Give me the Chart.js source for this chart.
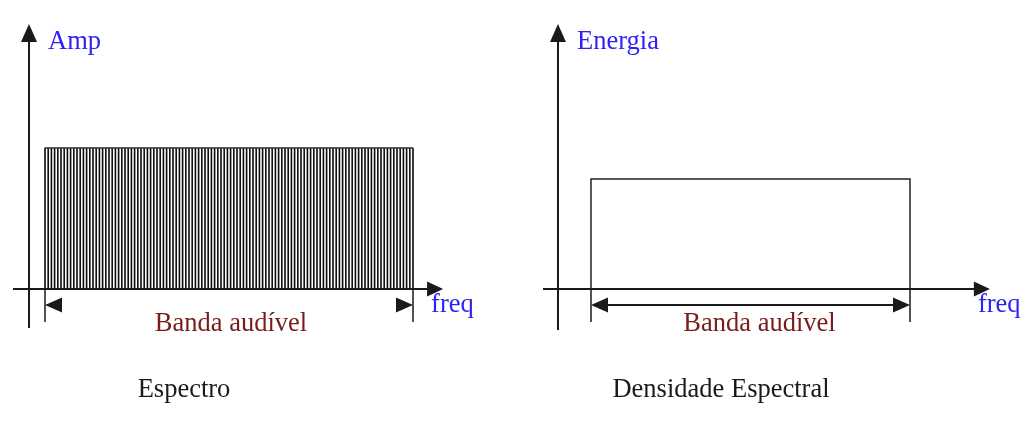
<!DOCTYPE html>
<html>
<head>
<meta charset="utf-8">
<script src="https://cdn.jsdelivr.net/npm/chart.js@4.4.0/dist/chart.umd.min.js"></script>
<style>
  body { margin: 0; background: #fff; }
  #wrap { position: relative; width: 1030px; height: 421px; }
  canvas { position: absolute; top: 0; }
</style>
</head>
<body>
<div id="wrap">
  <canvas id="espectro" width="515" height="421" style="left:0"></canvas>
  <canvas id="densidade" width="515" height="421" style="left:515px"></canvas>
</div>
<script>
// --- DATA ---
// spectral lines (index of each line across the audible band) and their amplitudes
const spectrumFreqs = [
  0, 1, 2, 3, 4, 5, 6, 7, 8, 9, 10, 11, 12, 13, 14, 15, 16, 17, 18, 19,
  20, 21, 22, 23, 24, 25, 26, 27, 28, 29, 30, 31, 32, 33, 34, 35, 36, 37, 38, 39,
  40, 41, 42, 43, 44, 45, 46, 47, 48, 49, 50, 51, 52, 53, 54, 55, 56, 57, 58, 59,
  60, 61, 62, 63, 64, 65, 66, 67, 68, 69, 70, 71, 72, 73, 74, 75, 76, 77, 78, 79,
  80, 81, 82, 83, 84, 85, 86, 87, 88, 89, 90, 91, 92, 93, 94, 95, 96, 97, 98, 99,
  100, 101, 102, 103, 104, 105, 106, 107, 108, 109, 110, 111, 112, 113, 114, 115
];
const spectrumAmps = [
  1, 1, 1, 1, 1, 1, 1, 1, 1, 1, 1, 1, 1, 1, 1, 1, 1, 1, 1, 1,
  1, 1, 1, 1, 1, 1, 1, 1, 1, 1, 1, 1, 1, 1, 1, 1, 1, 1, 1, 1,
  1, 1, 1, 1, 1, 1, 1, 1, 1, 1, 1, 1, 1, 1, 1, 1, 1, 1, 1, 1,
  1, 1, 1, 1, 1, 1, 1, 1, 1, 1, 1, 1, 1, 1, 1, 1, 1, 1, 1, 1,
  1, 1, 1, 1, 1, 1, 1, 1, 1, 1, 1, 1, 1, 1, 1, 1, 1, 1, 1, 1,
  1, 1, 1, 1, 1, 1, 1, 1, 1, 1, 1, 1, 1, 1, 1, 1
];
// edges of the audible band
const bandEdges = [0, 115];
const envelopeAmps = [1, 1];
// spectral density: a flat rectangle over the band
const densityFreqs = [0, 0, 115, 115];
const densityEnergy = [0, 1, 1, 0];

const labels = {
  left: { y: 'Amp', x: 'freq', band: 'Banda audível', title: 'Espectro' },
  right: { y: 'Energia', x: 'freq', band: 'Banda audível', title: 'Densidade Espectral' }
};

const FONT = '26.5px "Liberation Serif", "DejaVu Serif", serif';
const BLUE = '#2f22f5';
const MAROON = '#7a1c1c';
const INK = '#1a1a1a';

function arrowHead(ctx, tipX, tipY, dir, len, half) {
  // dir: 'up' | 'right' | 'left'
  ctx.beginPath();
  ctx.moveTo(tipX, tipY);
  if (dir === 'up') {
    ctx.lineTo(tipX - half, tipY + len);
    ctx.lineTo(tipX + half, tipY + len);
  } else if (dir === 'right') {
    ctx.lineTo(tipX - len, tipY - half);
    ctx.lineTo(tipX - len, tipY + half);
  } else {
    ctx.lineTo(tipX + len, tipY - half);
    ctx.lineTo(tipX + len, tipY + half);
  }
  ctx.closePath();
  ctx.fill();
}

// draws the hand-sketched axes, band marker and captions around each chart
const sketchAxes = {
  id: 'sketchAxes',
  afterDraw(chart, args, opts) {
    const ctx = chart.ctx;
    const xs = chart.scales.x, ys = chart.scales.y;
    const base = ys.getPixelForValue(0);
    const axisX = xs.getPixelForValue(opts.yAxisAt);
    const xStart = xs.getPixelForValue(opts.xFrom);
    const xEnd = xs.getPixelForValue(opts.xTo);
    const bL = xs.getPixelForValue(bandEdges[0]);
    const bR = xs.getPixelForValue(bandEdges[1]);

    ctx.save();
    ctx.strokeStyle = INK;
    ctx.fillStyle = INK;
    ctx.lineWidth = 2;

    // vertical axis
    ctx.beginPath();
    ctx.moveTo(axisX, opts.yBottom);
    ctx.lineTo(axisX, 40);
    ctx.stroke();
    arrowHead(ctx, axisX, 24, 'up', 18, 8);

    // horizontal axis
    ctx.beginPath();
    ctx.moveTo(xStart, base);
    ctx.lineTo(xEnd - 14, base);
    ctx.stroke();
    arrowHead(ctx, xEnd, base, 'right', 16, 7.5);

    // band extension lines
    ctx.lineWidth = 1.5;
    ctx.beginPath();
    ctx.moveTo(bL, base);
    ctx.lineTo(bL, base + 33);
    ctx.moveTo(bR, base);
    ctx.lineTo(bR, base + 33);
    ctx.stroke();

    // band dimension arrows
    const dimY = base + 16;
    if (opts.dimLine) {
      ctx.lineWidth = 2;
      ctx.beginPath();
      ctx.moveTo(bL + 10, dimY);
      ctx.lineTo(bR - 10, dimY);
      ctx.stroke();
    }
    arrowHead(ctx, bL, dimY, 'left', 17, 7.5);
    arrowHead(ctx, bR, dimY, 'right', 17, 7.5);

    // captions
    const t = opts.text;
    ctx.font = FONT;
    ctx.textBaseline = 'alphabetic';
    ctx.textAlign = 'left';
    ctx.fillStyle = BLUE;
    ctx.fillText(t.y, axisX + 19, 49);
    ctx.fillText(t.x, xEnd - 12, 312);
    ctx.textAlign = 'center';
    ctx.fillStyle = MAROON;
    ctx.fillText(t.band, (bL + bR) / 2 + opts.bandShift, 331);
    ctx.fillStyle = INK;
    ctx.fillText(t.title, opts.titleX, 397);
    ctx.restore();
  }
};

const commonScales = () => ({
  x: { type: 'linear', display: false, offset: false, min: bandEdges[0], max: bandEdges[1] },
  y: { type: 'linear', display: false, min: 0, max: 1 }
});

// --- LEFT: ESPECTRO ---
new Chart(document.getElementById('espectro'), {
  type: 'bar',
  data: {
    datasets: [
      {
        type: 'line',
        data: bandEdges.map((f, i) => ({ x: f, y: envelopeAmps[i] })),
        borderColor: '#333',
        borderWidth: 1.5,
        pointRadius: 0,
        clip: 4
      },
      {
        type: 'bar',
        data: spectrumFreqs.map((f, i) => ({ x: f, y: spectrumAmps[i] })),
        backgroundColor: '#111',
        barThickness: 1,
        borderWidth: 0,
        clip: 4
      }
    ]
  },
  options: {
    responsive: false,
    animation: false,
    layout: { padding: { left: 45, right: 102, top: 148, bottom: 132 } },
    scales: commonScales(),
    plugins: {
      legend: { display: false },
      tooltip: { enabled: false },
      sketchAxes: {
        yAxisAt: -5, xFrom: -10, xTo: 124.4, yBottom: 328,
        dimLine: false, bandShift: 2, titleX: 184, text: labels.left
      }
    }
  },
  plugins: [sketchAxes]
});

// --- RIGHT: DENSIDADE ESPECTRAL ---
new Chart(document.getElementById('densidade'), {
  type: 'line',
  data: {
    datasets: [{
      data: densityFreqs.map((f, i) => ({ x: f, y: densityEnergy[i] })),
      borderColor: '#222',
      borderWidth: 1.5,
      pointRadius: 0,
      tension: 0,
      clip: 4
    }]
  },
  options: {
    responsive: false,
    animation: false,
    layout: { padding: { left: 76, right: 120, top: 179, bottom: 132 } },
    scales: commonScales(),
    plugins: {
      legend: { display: false },
      tooltip: { enabled: false },
      sketchAxes: {
        yAxisAt: -11.9, xFrom: -17.3, xTo: 143.8, yBottom: 330,
        dimLine: true, bandShift: 9, titleX: 206, text: labels.right
      }
    }
  },
  plugins: [sketchAxes]
});
</script>
</body>
</html>
